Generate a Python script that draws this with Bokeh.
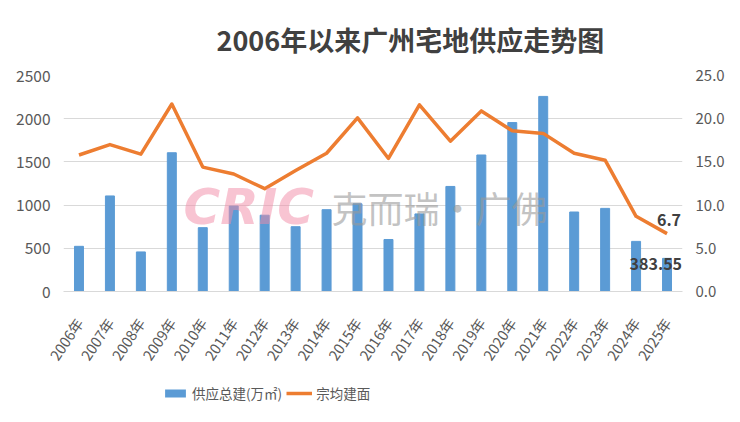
from bokeh.plotting import figure
from bokeh.layouts import column
from bokeh.models import (ColumnDataSource, Range1d, LinearAxis, Legend, LegendItem,
                          Label, LabelSet, FactorRange, SingleIntervalTicker, NumeralTickFormatter)
from bokeh.core.properties import value
from bokeh.embed import file_html
from bokeh.resources import INLINE
import math

years = ["2006年", "2007年", "2008年", "2009年", "2010年", "2011年", "2012年", "2013年",
         "2014年", "2015年", "2016年", "2017年", "2018年", "2019年", "2020年", "2021年",
         "2022年", "2023年", "2024年", "2025年"]
supply = [523, 1106, 458, 1606, 739, 989, 883, 750, 947, 1015, 602, 898, 1216, 1580,
          1955, 2258, 920, 962, 580, 383.55]
avg_area = [15.8, 17.0, 15.9, 21.7, 14.4, 13.6, 11.9, 14.0, 16.0, 20.1, 15.4, 21.6,
            17.4, 20.9, 18.6, 18.3, 16.0, 15.2, 8.7, 6.7]

title_text = "2006年以来广州宅地供应走势图"
bar_name = "供应总建(万㎡)"
line_name = "宗均建面"

FONT = "Noto Sans CJK SC"
GRAY = "#595959"
BLUE = "#5B9BD5"
ORANGE = "#ED7D31"

src = ColumnDataSource(dict(x=years, supply=supply, avg=avg_area))

p = figure(width=732, height=372, x_range=FactorRange(*years, range_padding=0),
           y_range=Range1d(0, 2500), output_backend="svg", toolbar_location=None,
           min_border_left=63, min_border_right=50, min_border_top=75, min_border_bottom=77)
p.extra_y_ranges = {"right": Range1d(0, 25)}

p.outline_line_color = None
p.xgrid.grid_line_color = None
p.ygrid.grid_line_color = "#d9d9d9"
p.ygrid.ticker = SingleIntervalTicker(interval=500)

p.yaxis.ticker = SingleIntervalTicker(interval=500)
p.yaxis.axis_line_color = None
p.yaxis.major_tick_line_color = None
p.yaxis.minor_tick_line_color = None
p.yaxis.major_label_text_font = FONT
p.yaxis.major_label_text_font_size = "15.5px"
p.yaxis.major_label_text_color = GRAY
p.yaxis.major_label_standoff = 7

ra = LinearAxis(y_range_name="right", ticker=SingleIntervalTicker(interval=5),
                formatter=NumeralTickFormatter(format="0.0"))
ra.axis_line_color = None
ra.major_tick_line_color = None
ra.minor_tick_line_color = None
ra.major_label_text_font = FONT
ra.major_label_text_font_size = "15px"
ra.major_label_text_color = GRAY
ra.major_label_standoff = 7
p.add_layout(ra, "right")

p.xaxis.axis_line_color = "#d9d9d9"
p.xaxis.major_tick_line_color = None
p.xaxis.minor_tick_line_color = None
p.xaxis.major_label_orientation = math.radians(56)
p.xaxis.major_label_text_font = FONT
p.xaxis.major_label_text_font_size = "14.5px"
p.xaxis.major_label_text_color = GRAY
p.xaxis.major_label_standoff = 22

# watermark
wm1 = Label(x=120, y=85, x_units="screen", y_units="screen", text="CRIC",
            text_font="DejaVu Sans", text_font_size="50px", text_font_style="bold italic",
            text_color="#f28aa6", text_alpha=0.5, text_baseline="middle")
wm2 = Label(x=268, y=85, x_units="screen", y_units="screen", text="克而瑞·广佛",
            text_font=FONT, text_font_size="36px", text_color="#9a9a9a", text_alpha=0.6,
            text_baseline="middle")
p.add_layout(wm1)
p.add_layout(wm2)

bars = p.vbar(x="x", top="supply", width=0.29, source=src, color=BLUE)
line = p.line(x="x", y="avg", source=src, y_range_name="right", color=ORANGE,
              line_width=3.5, line_join="round")

# data labels on the last point
last = ColumnDataSource(dict(x=[years[-1]], s=[supply[-1]], a=[avg_area[-1]],
                             st=[f"{supply[-1]:g}"], at=[f"{avg_area[-1]:g}"]))
ls = dict(text_font=value(FONT), text_font_size="16px", text_font_style="bold",
          text_color="#404040")
lab_a = LabelSet(x="x", y="a", text="at", source=last, y_range_name="right",
                 text_align="center", text_baseline="bottom", x_offset=2, y_offset=8, **ls)
lab_s = LabelSet(x="x", y="s", text="st", source=last,
                 text_align="right", text_baseline="middle", x_offset=15, y_offset=-6, **ls)
p.add_layout(lab_a)
p.add_layout(lab_s)

p.title.text = title_text
p.title.text_font = FONT
p.title.text_font_size = "27px"
p.title.text_font_style = "bold"
p.title.text_color = "#404040"
p.title.align = "left"
p.title.offset = 153
p.title.standoff = 34

# legend strip below the chart; its glyph renderers share the data but sit outside its range
lg = figure(width=732, height=49, output_backend="svg", toolbar_location=None,
            x_range=FactorRange(*years), y_range=Range1d(-2, -1),
            x_axis_type=None, y_axis_type=None,
            min_border_left=0, min_border_right=0, min_border_top=0, min_border_bottom=0)
lg.outline_line_color = None
lg.xgrid.grid_line_color = None
lg.ygrid.grid_line_color = None
lb = lg.vbar(x="x", bottom=0, top="supply", width=0.001, source=src,
             fill_color=BLUE, line_color=None)
ll = lg.line(x="x", y="avg", source=src, color=ORANGE, line_width=3.5)
legend = Legend(items=[LegendItem(label=bar_name, renderers=[lb]),
                       LegendItem(label=line_name, renderers=[ll])],
                orientation="horizontal", location=(99, 18),
                border_line_color=None, background_fill_alpha=0,
                label_text_font=FONT, label_text_font_size="13.5px",
                label_text_color=GRAY, glyph_width=26, glyph_height=10,
                label_standoff=4, spacing=4, padding=0, margin=0)
lg.add_layout(legend, "center")

layout = column(p, lg, spacing=0)
open("out.html", "w").write(file_html(layout, INLINE))
